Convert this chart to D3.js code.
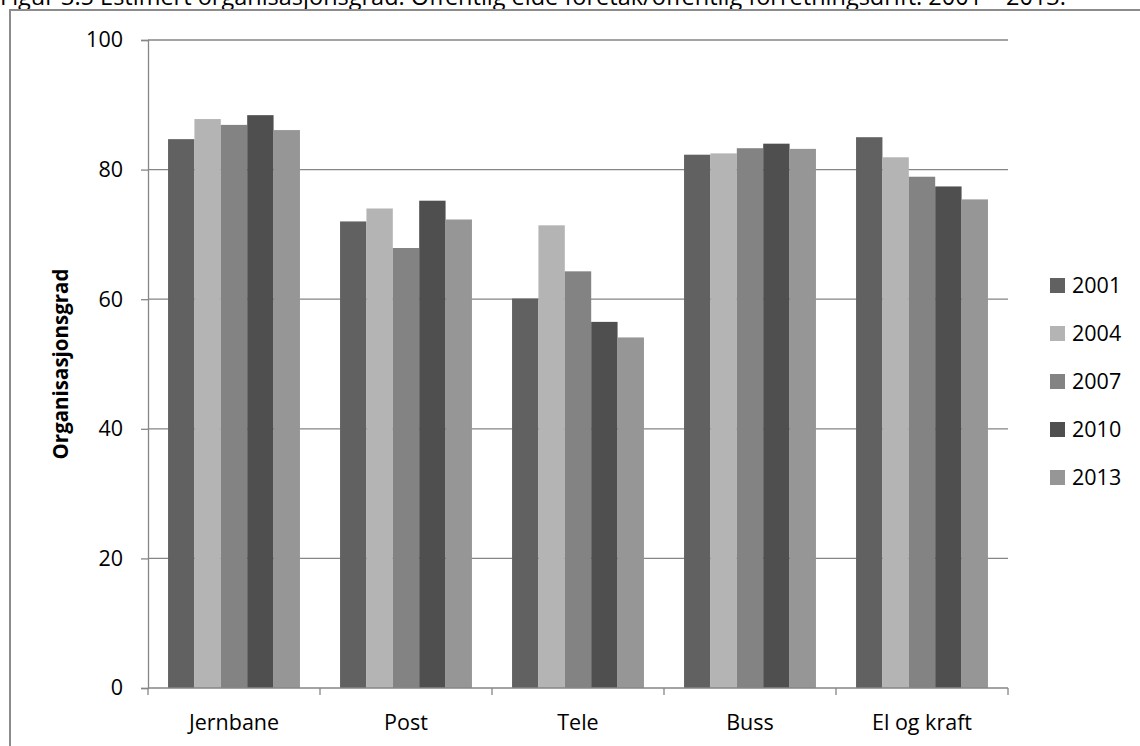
<!DOCTYPE html>
<html>
<head>
<meta charset="utf-8">
<script src="https://cdn.jsdelivr.net/npm/d3@7"></script>
<style>
  html, body { margin: 0; padding: 0; background: #fff; }
  svg { display: block; }
  text { font-family: "Open Sans", "Noto Sans", sans-serif; fill: #000; }
</style>
</head>
<body>
<svg id="chart" width="1140" height="746"></svg>
<script>
// Sectors and survey years
const categories = ["Jernbane", "Post", "Tele", "Buss", "El og kraft"];
const years = ["2001", "2004", "2007", "2010", "2013"];

// Estimated union density (%) per sector, one array per year
const v2001 = [84.7, 72.0, 60.1, 82.3, 85.0];
const v2004 = [87.8, 74.0, 71.4, 82.5, 81.9];
const v2007 = [86.9, 67.9, 64.3, 83.3, 78.9];
const v2010 = [88.4, 75.2, 56.5, 84.0, 77.4];
const v2013 = [86.1, 72.3, 54.1, 83.2, 75.4];
const seriesValues = [v2001, v2004, v2007, v2010, v2013];

const yTicks = [0, 20, 40, 60, 80, 100];
const colors = ["#616161", "#b4b4b4", "#838383", "#4f4f4f", "#969696"];

const svg = d3.select("#chart");
const W = 1140, H = 746;
const plot = { left: 148, right: 1008, top: 40, bottom: 688 };
const labelSize = "21.5px";

// Caption running above the frame
svg.append("text")
  .attr("x", 0).attr("y", 5)
  .style("font-size", "23.5px")
  .text("Figur 3.5 Estimert organisasjonsgrad. Offentlig eide foretak/offentlig forretningsdrift. 2001 – 2013.");

// Outer frame
svg.append("path")
  .attr("d", `M10,${H + 2} V10 H${W + 2}`)
  .attr("fill", "none")
  .attr("stroke", "#8c8c8c")
  .attr("stroke-width", 2);

const x0 = d3.scaleBand().domain(categories)
  .range([plot.left, plot.right]).paddingInner(0).paddingOuter(0);
const x1 = d3.scaleBand().domain(years)
  .range([0, x0.bandwidth()]).paddingInner(0).paddingOuter(0.76);
const y = d3.scaleLinear().domain([0, 100]).range([plot.bottom, plot.top]);

// Horizontal gridlines
svg.append("g")
  .selectAll("line")
  .data(yTicks.filter(t => t > 0))
  .join("line")
  .attr("x1", plot.left).attr("x2", plot.right)
  .attr("y1", d => y(d)).attr("y2", d => y(d))
  .attr("stroke", "#868686").attr("stroke-width", 1.3);

// Bars
const groups = svg.append("g")
  .selectAll("g")
  .data(categories)
  .join("g")
  .attr("transform", d => `translate(${x0(d)},0)`);

groups.selectAll("rect")
  .data((c, ci) => years.map((yr, si) => ({ yr, si, v: seriesValues[si][ci] })))
  .join("rect")
  .attr("x", d => x1(d.yr))
  .attr("width", x1.bandwidth())
  .attr("y", d => y(d.v))
  .attr("height", d => y(0) - y(d.v))
  .attr("fill", d => colors[d.si]);

// Y axis
const yAxis = svg.append("g")
  .attr("transform", `translate(${plot.left},0)`)
  .call(d3.axisLeft(y).tickValues(yTicks).tickSize(7).tickPadding(18).tickFormat(d3.format("d")));
yAxis.select(".domain").attr("stroke", "#868686").attr("stroke-width", 1.3);
yAxis.selectAll(".tick line").attr("stroke", "#868686").attr("stroke-width", 1.3);
yAxis.selectAll(".tick text").style("font-size", labelSize)
  .style("font-family", "'Open Sans', sans-serif").attr("fill", "#000");

// X axis with boundary ticks between categories
const xAxisG = svg.append("g");
xAxisG.append("line")
  .attr("x1", plot.left).attr("x2", plot.right)
  .attr("y1", plot.bottom).attr("y2", plot.bottom)
  .attr("stroke", "#868686").attr("stroke-width", 1.3);
const bounds = categories.map(c => x0(c)).concat([plot.right]);
xAxisG.selectAll("line.tk")
  .data(bounds)
  .join("line")
  .attr("class", "tk")
  .attr("x1", d => d).attr("x2", d => d)
  .attr("y1", plot.bottom).attr("y2", plot.bottom + 7)
  .attr("stroke", "#868686").attr("stroke-width", 1.3);
xAxisG.selectAll("text")
  .data(categories)
  .join("text")
  .attr("x", d => x0(d) + x0.bandwidth() / 2)
  .attr("y", 730)
  .attr("text-anchor", "middle")
  .style("font-size", labelSize)
  .text(d => d);

// Y axis title
svg.append("text")
  .attr("transform", `translate(68,${(plot.top + plot.bottom) / 2}) rotate(-90)`)
  .attr("text-anchor", "middle")
  .style("font-size", "20.5px")
  .style("font-weight", "bold")
  .text("Organisasjonsgrad");

// Legend
const legend = svg.append("g")
  .selectAll("g")
  .data(years)
  .join("g")
  .attr("transform", (d, i) => `translate(1050,${285 + i * 48})`);
legend.append("rect")
  .attr("x", 0).attr("y", -7)
  .attr("width", 15).attr("height", 15)
  .attr("fill", (d, i) => colors[i]);
legend.append("text")
  .attr("x", 22).attr("y", 8)
  .style("font-size", labelSize)
  .text(d => d);
</script>
</body>
</html>
